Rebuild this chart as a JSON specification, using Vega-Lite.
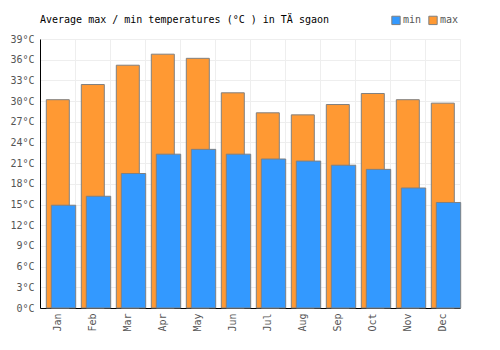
{
  "$schema": "https://vega.github.io/schema/vega-lite/v6.json",
  "width": 420,
  "height": 269,
  "autosize": {"type": "none"},
  "padding": {"left": 40, "top": 39, "right": 40, "bottom": 42},
  "background": "white",
  "title": {
    "text": "Average max / min temperatures (°C ) in TÄ sgaon",
    "anchor": "start",
    "frame": "group",
    "font": "DejaVu Sans Mono",
    "fontSize": 10,
    "fontWeight": "normal",
    "color": "#000000",
    "offset": 14,
    "dy": 24
  },
  "data": {
    "values": [
      {"month": "Jan", "type": "max", "temp": 30.2},
      {"month": "Feb", "type": "max", "temp": 32.4},
      {"month": "Mar", "type": "max", "temp": 35.2},
      {"month": "Apr", "type": "max", "temp": 36.8},
      {"month": "May", "type": "max", "temp": 36.2},
      {"month": "Jun", "type": "max", "temp": 31.2},
      {"month": "Jul", "type": "max", "temp": 28.3},
      {"month": "Aug", "type": "max", "temp": 28.0},
      {"month": "Sep", "type": "max", "temp": 29.5},
      {"month": "Oct", "type": "max", "temp": 31.1},
      {"month": "Nov", "type": "max", "temp": 30.2},
      {"month": "Dec", "type": "max", "temp": 29.7},
      {"month": "Jan", "type": "min", "temp": 14.9},
      {"month": "Feb", "type": "min", "temp": 16.2},
      {"month": "Mar", "type": "min", "temp": 19.5},
      {"month": "Apr", "type": "min", "temp": 22.3},
      {"month": "May", "type": "min", "temp": 23.0},
      {"month": "Jun", "type": "min", "temp": 22.3},
      {"month": "Jul", "type": "min", "temp": 21.6},
      {"month": "Aug", "type": "min", "temp": 21.3},
      {"month": "Sep", "type": "min", "temp": 20.7},
      {"month": "Oct", "type": "min", "temp": 20.1},
      {"month": "Nov", "type": "min", "temp": 17.4},
      {"month": "Dec", "type": "min", "temp": 15.3}
    ]
  },
  "encoding": {
    "x": {
      "field": "month",
      "type": "ordinal",
      "sort": null,
      "scale": {"paddingInner": 0, "paddingOuter": 0},
      "axis": {
        "title": null,
        "bandPosition": 0,
        "labelAngle": -90,
        "ticks": false,
        "grid": true,
        "gridColor": "#eeeeee",
        "domainColor": "#000000",
        "labelFont": "DejaVu Sans Mono",
        "labelFontSize": 10,
        "labelColor": "#555555",
        "labelPadding": 5
      }
    },
    "y": {
      "field": "temp",
      "type": "quantitative",
      "scale": {"domain": [0, 39], "nice": false},
      "axis": {
        "title": null,
        "values": [0, 3, 6, 9, 12, 15, 18, 21, 24, 27, 30, 33, 36, 39],
        "labelExpr": "datum.value + '°C'",
        "ticks": false,
        "grid": true,
        "gridColor": "#eeeeee",
        "domainColor": "#000000",
        "labelFont": "DejaVu Sans Mono",
        "labelFontSize": 10,
        "labelColor": "#555555",
        "labelPadding": 6
      }
    },
    "color": {
      "field": "type",
      "type": "nominal",
      "scale": {"domain": ["min", "max"], "range": ["#3399ff", "#ff9933"]},
      "legend": {
        "title": null,
        "orient": "none",
        "legendX": 351,
        "legendY": -24,
        "direction": "horizontal",
        "symbolType": "square",
        "symbolSize": 70,
        "symbolStrokeColor": "#808080",
        "symbolStrokeWidth": 1,
        "symbolOpacity": 1,
        "labelFont": "DejaVu Sans Mono",
        "labelFontSize": 10,
        "labelColor": "#555555",
        "labelOffset": 2,
        "columnPadding": 4
      }
    }
  },
  "layer": [
    {
      "transform": [{"filter": "datum.type == 'max'"}],
      "mark": {"type": "bar", "width": 23, "xOffset": 0.3, "stroke": "#808080", "strokeWidth": 1, "opacity": 1}
    },
    {
      "transform": [{"filter": "datum.type == 'min'"}],
      "mark": {"type": "bar", "width": 24.4, "xOffset": 6, "stroke": "#808080", "strokeWidth": 1, "opacity": 1}
    }
  ],
  "config": {
    "view": {"stroke": "#eeeeee"}
  }
}
